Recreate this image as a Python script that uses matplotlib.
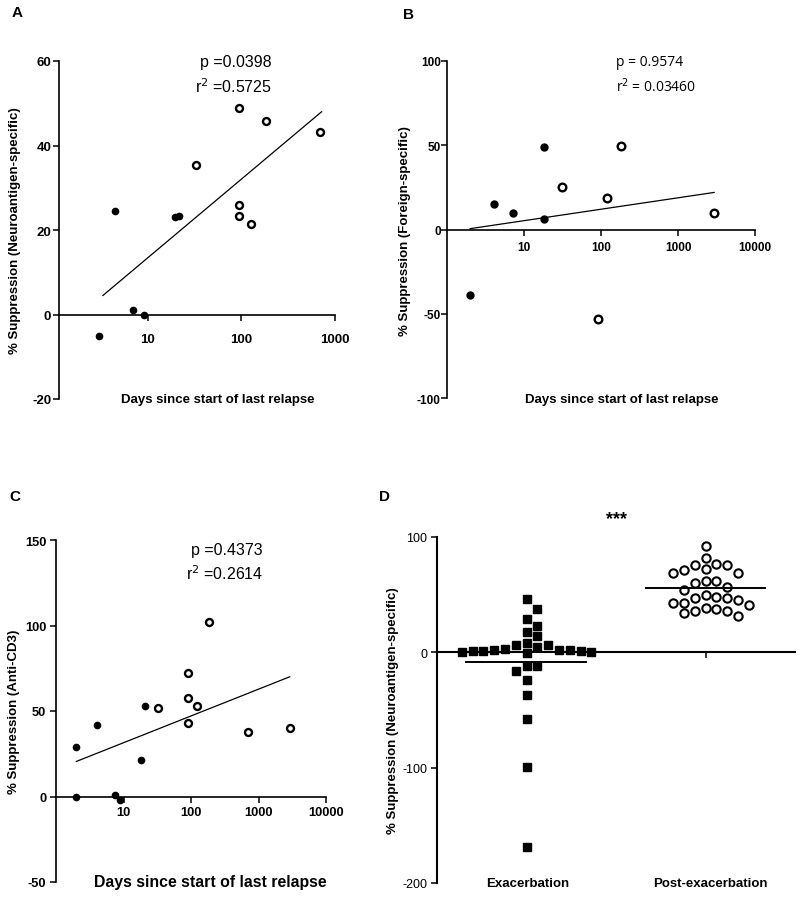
import numpy as np
import matplotlib.pyplot as plt

plt.rcParams['font.family'] = ['Liberation Sans', 'DejaVu Sans']
plt.rcParams['axes.unicode_minus'] = False

# A: neuroantigen-specific suppression vs days since relapse
a_early_days = [3, 4.4, 7, 9, 19.5, 21.5]
a_early_supp = [-5, 24.5, 1, 0, 23, 23.3]
a_late_days = [33, 93, 93, 93, 125, 185, 690]
a_late_supp = [35.5, 48.8, 25.8, 23.4, 21.5, 45.7, 43.3]
a_fit_days = [3.3, 720]
a_fit_supp = [4.5, 48]

# B: foreign-specific
b_early_days = [2, 4.1, 7.2, 18, 18]
b_early_supp = [-39, 15, 10, 49, 6]
b_late_days = [31, 91, 120, 182, 2950]
b_late_supp = [25, -53, 18.5, 49.5, 9.5]
b_fit_days = [2, 2950]
b_fit_supp = [0.5, 22]

# C: anti-CD3
c_early_days = [2, 2, 4.1, 7.4, 9, 18, 20.5]
c_early_supp = [29, 0, 42, 1, -2, 21.5, 53]
c_late_days = [32, 91, 91, 91, 122, 182, 690, 2900]
c_late_supp = [51.5, 72, 57.5, 43, 53, 102, 37.5, 40]
c_fit_days = [2, 2900]
c_fit_supp = [20.5, 70]

# D: exacerbation vs post-exacerbation
d_groups = ["Exacerbation", "Post-exacerbation"]
d_exac = [46, 38, 29, 23, 18, 14, 8, 6, 6, 4.6, 3.2, 2.3, 2.3, 1.7, 1.5,
          0.9, 0.9, 0.3, 0, -1, -12, -12, -16.5, -24, -37, -58, -99, -169]
d_post = [92, 81.4, 76.8, 75.6, 75.6, 71.9, 71, 68.7, 68.7, 61.5, 61.5, 59.7,
          56.6, 54.3, 49.6, 48.2, 47, 46.8, 45.6, 43, 43, 40.7, 38.7, 37.8,
          36.1, 35.5, 33.8, 31.8]

W, H = 800, 904
fig = plt.figure(figsize=(8, 9.04), dpi=100)


def box(left, top, right, bottom):
    return [left / W, 1 - bottom / H, (right - left) / W, (bottom - top) / H]


def ftext(x, y, s, **kw):
    fig.text(x / W, 1 - y / H, s, **kw)


def style(ax, tick_font, xpad, ypad):
    for s in ['top', 'right']:
        ax.spines[s].set_visible(False)
    ax.spines['bottom'].set_position(('data', 0))
    for s in ['left', 'bottom']:
        ax.spines[s].set_linewidth(1.2)
    ax.tick_params(axis='x', length=4, width=1.1, pad=xpad)
    ax.tick_params(axis='y', length=4, width=1.1, pad=ypad)
    ax.minorticks_off()
    for lab in ax.get_xticklabels() + ax.get_yticklabels():
        lab.set(**tick_font)
    ax.patch.set_alpha(0)


def scatter_panel(ax, ed, es, ld, ls, fd, fs, ms_f, ms_o):
    ax.plot(ed, es, 'o', color='black', ms=ms_f, ls='none', zorder=3)
    ax.plot(ld, ls, 'o', mfc='white', mec='black', mew=1.7, ms=ms_o, ls='none', zorder=3)
    ax.plot(fd, fs, color='black', lw=0.9, zorder=2)
    ax.set_xscale('log')


bold10 = dict(fontweight='bold', fontsize=9.5)

# Panel A
ax = fig.add_axes(box(59, 62, 335, 400))
scatter_panel(ax, a_early_days, a_early_supp, a_late_days, a_late_supp,
              a_fit_days, a_fit_supp, 4.5, 5)
ax.set_xlim(1.12, 1000)
ax.set_ylim(-20, 60)
ax.set_xticks([10, 100, 1000], ['10', '100', '1000'])
ax.set_yticks([-20, 0, 20, 40, 60])
style(ax, bold10, 9, 1.5)
ftext(218, 400, 'Days since start of last relapse', ha='center', va='center', **bold10)
ftext(15, 231, '% Suppression (Neuroantigen-specific)', rotation=90,
      ha='center', va='center', **bold10)
ftext(272, 63, 'p =0.0398', ha='right', va='center', fontsize=11.5)
ftext(272, 87, 'r$^2$ =0.5725', ha='right', va='center', fontsize=11.5)
ftext(17, 13, 'A', ha='center', va='center', fontsize=11, fontweight='bold')

# Panel B
ax = fig.add_axes(box(447, 62, 755, 399))
scatter_panel(ax, b_early_days, b_early_supp, b_late_days, b_late_supp,
              b_fit_days, b_fit_supp, 5, 5.5)
ax.set_xlim(1, 10000)
ax.set_ylim(-100, 100)
ax.set_xticks([10, 100, 1000, 10000], ['10', '100', '1000', '10000'])
ax.set_yticks([-100, -50, 0, 50, 100])
style(ax, dict(fontweight='bold', fontsize=8.5,
               family=['Liberation Sans Narrow', 'Liberation Sans']), 4, 0.5)
ftext(622, 400, 'Days since start of last relapse', ha='center', va='center', **bold10)
ftext(405, 231, '% Suppression (Foreign-specific)', rotation=90,
      ha='center', va='center', **bold10)
ftext(616, 62, 'p = 0.9574', ha='left', va='center', fontsize=10,
      family=['Open Sans', 'DejaVu Sans'])
ftext(616, 87, 'r$^2$ = 0.03460', ha='left', va='center', fontsize=10,
      family=['Open Sans', 'DejaVu Sans'])
ftext(409, 15, 'B', ha='center', va='center', fontsize=11, fontweight='bold')

# Panel C
ax = fig.add_axes(box(56, 541, 326, 883))
scatter_panel(ax, c_early_days, c_early_supp, c_late_days, c_late_supp,
              c_fit_days, c_fit_supp, 4.5, 5)
ax.set_xlim(1, 10000)
ax.set_ylim(-50, 150)
ax.set_xticks([10, 100, 1000, 10000], ['10', '100', '1000', '10000'])
ax.set_yticks([-50, 0, 50, 100, 150])
style(ax, dict(fontweight='bold', fontsize=9.3), 3, 3)
ftext(210, 883, 'Days since start of last relapse', ha='center', va='center',
      fontweight='bold', fontsize=11.4)
ftext(14, 712, '% Suppression (Anti-CD3)', rotation=90,
      ha='center', va='center', **bold10)
ftext(263, 551, 'p =0.4373', ha='right', va='center', fontsize=11.5)
ftext(263, 574, 'r$^2$ =0.2614', ha='right', va='center', fontsize=11.5)
ftext(15, 497, 'C', ha='center', va='center', fontsize=11, fontweight='bold')

# Panel D
left, top, right, bottom = 437, 538, 795, 884
ax = fig.add_axes(box(left, top, right, bottom))
ymin, ymax = -200, 100
px_cat = (right - left) / 2.0
px_unit = (bottom - top) / (ymax - ymin)


def swarm(vals, step_px, diam_px):
    vals = np.asarray(vals, dtype=float)
    xs = np.zeros(len(vals))
    placed = []
    cand = [0]
    for k in range(1, 12):
        cand += [k, -k]
    for i in np.argsort(vals)[::-1]:
        y = vals[i] * px_unit
        for k in cand:
            x = k * step_px
            if all(np.hypot(x - px, y - py) >= diam_px for px, py in placed):
                break
        placed.append((x, y))
        xs[i] = x / px_cat
    return xs


off_e = swarm(d_exac, 10.8, 9.8)
off_p = swarm(d_post, 10.8, 10.3)
ax.plot(0 + off_e, d_exac, 's', color='black', ms=5.3, ls='none', zorder=3)
ax.plot(1 + off_p, d_post, 'o', mfc='white', mec='black', mew=1.5, ms=6,
        ls='none', zorder=3)
ax.plot([-0.34, 0.33], [np.mean(d_exac)] * 2, color='black', lw=1.4, zorder=4)
ax.plot([0.67, 1.33], [np.mean(d_post)] * 2, color='black', lw=1.4, zorder=4)
ax.set_xlim(-0.5, 1.5)
ax.set_ylim(ymin, ymax)
ax.set_xticks([0, 1], ['', ''])
ax.set_yticks([-200, -100, 0, 100])
style(ax, dict(fontsize=9), 3, 3)
for s in ['left', 'bottom']:
    ax.spines[s].set_linewidth(1.5)
ftext(528, 884, d_groups[0], ha='center', va='center', **bold10)
ftext(710, 884, d_groups[1], ha='center', va='center', **bold10)
ftext(393, 711, '% Suppression (Neuroantigen-specific)', rotation=90,
      ha='center', va='center', **bold10)
ftext(617, 520, '***', ha='center', va='center', fontsize=13, fontweight='bold')
ftext(385, 497, 'D', ha='center', va='center', fontsize=11, fontweight='bold')

fig.savefig('out.png', dpi=100)
